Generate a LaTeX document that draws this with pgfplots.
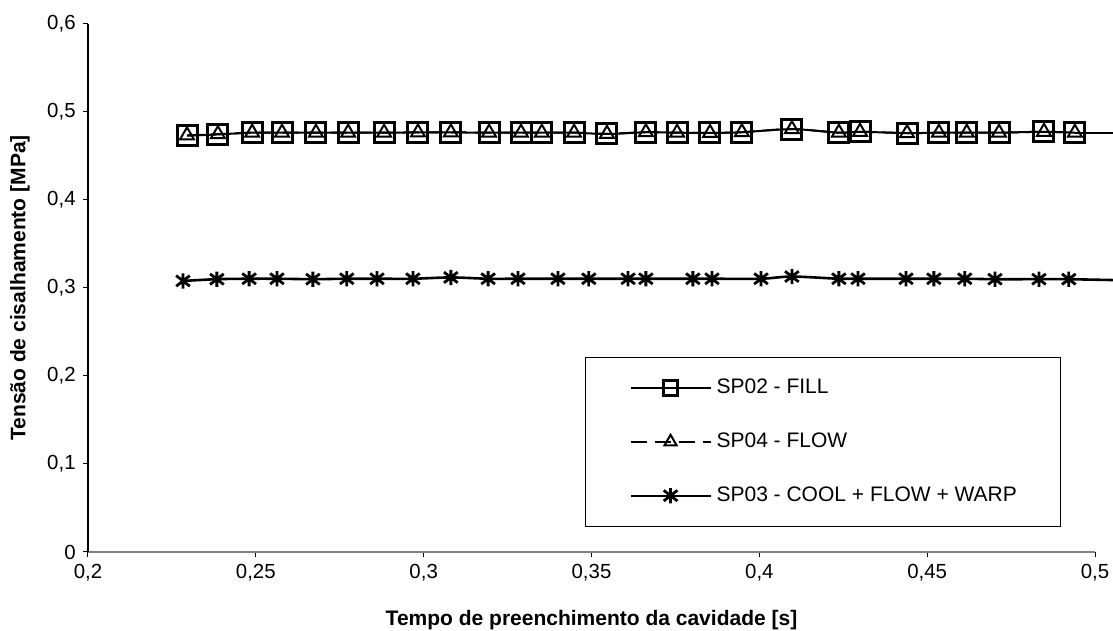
\documentclass[border=0pt]{standalone}
\usepackage{fontspec}
\setmainfont{Liberation Sans}
\usepackage{pgfplots}
\pgfplotsset{compat=1.18}

% asterisk like the spreadsheet one: vertical stroke plus an X
\pgfdeclareplotmark{xast}{%
  \pgfpathmoveto{\pgfqpoint{0pt}{\pgfplotmarksize}}%
  \pgfpathlineto{\pgfqpoint{0pt}{-\pgfplotmarksize}}%
  \pgfpathmoveto{\pgfqpoint{0.9\pgfplotmarksize}{0.7\pgfplotmarksize}}%
  \pgfpathlineto{\pgfqpoint{-0.9\pgfplotmarksize}{-0.7\pgfplotmarksize}}%
  \pgfpathmoveto{\pgfqpoint{-0.9\pgfplotmarksize}{0.7\pgfplotmarksize}}%
  \pgfpathlineto{\pgfqpoint{0.9\pgfplotmarksize}{-0.7\pgfplotmarksize}}%
  \pgfusepathqstroke}

\begin{document}
\fontsize{10.5}{12.6}\selectfont
\begin{tikzpicture}
\begin{axis}[
  scale only axis, width=503.5pt, height=264pt,
  xmin=0.2, xmax=0.5, ymin=0, ymax=0.6,
  xtick={0.2,0.25,0.3,0.35,0.4,0.45,0.5},
  ytick={0,0.1,0.2,0.3,0.4,0.5,0.6},
  axis x line*=bottom, axis y line*=left,
  x axis line style={black!50, line width=0.8pt},
  y axis line style={black, line width=0.6pt},
  tick align=outside, major tick length=2.5pt,
  tick style={black, line width=0.5pt},
  /pgf/number format/use comma,
  /pgf/number format/assume math mode=true,
  ticklabel style={font=\fontsize{10.2}{12}\selectfont},
  xlabel={Tempo de preenchimento da cavidade [s]},
  ylabel={Tensão de cisalhamento [MPa]},
  label style={font=\bfseries\fontsize{10.5}{12.6}\selectfont},
  xlabel style={at={(axis description cs:0.5,-0.129)}, anchor=center},
  ylabel style={at={(axis description cs:-0.0675,0.5)}, anchor=center},
  legend style={at={(axis description cs:0.4935,0.047)}, anchor=south west,
    draw=black, line width=0.6pt, fill=white,
    font=\fontsize{10.5}{12.6}\selectfont,
    inner xsep=22pt, inner ysep=11pt, row sep=18pt, column sep=2.5pt,
    nodes={inner sep=0pt}},
  legend cell align=left,
  legend image code/.code={%
    \draw[mark repeat=2, mark phase=2, #1] plot coordinates {(0pt,0pt) (20pt,0pt) (40pt,0pt)};},
  clip=false,
]
\addplot[black, line width=1pt, smooth, mark=square, mark size=5pt,
  mark options={solid, line width=1.5pt}, legend image post style={mark size=3.6pt}]
coordinates {
(0.2295,0.4730)(0.2387,0.4745)(0.2489,0.4765)(0.2578,0.4765)(0.2679,0.4765)
(0.2775,0.4765)(0.2882,0.4765)(0.2983,0.4768)(0.3081,0.4768)(0.3195,0.4765)
(0.3290,0.4765)(0.3352,0.4765)(0.3448,0.4765)(0.3546,0.4750)(0.3662,0.4770)
(0.3755,0.4765)(0.3853,0.4762)(0.3948,0.4770)(0.4097,0.4805)(0.4237,0.4765)
(0.4300,0.4775)(0.4440,0.4760)(0.4535,0.4765)(0.4618,0.4765)(0.4714,0.4765)
(0.4848,0.4775)(0.4940,0.4765)};
\addlegendentry{SP02 - FILL}
\addplot[black, line width=1pt, smooth, dash pattern=on 8pt off 4pt, mark=triangle, mark size=4pt,
  mark options={solid, line width=1pt}, legend image post style={mark size=3.5pt}]
coordinates {
(0.2295,0.4735)(0.2387,0.4748)(0.2489,0.4765)(0.2578,0.4765)(0.2679,0.4765)
(0.2775,0.4765)(0.2882,0.4765)(0.2983,0.4768)(0.3081,0.4768)(0.3195,0.4765)
(0.3290,0.4765)(0.3352,0.4765)(0.3448,0.4765)(0.3546,0.4752)(0.3662,0.4770)
(0.3755,0.4765)(0.3853,0.4762)(0.3948,0.4770)(0.4097,0.4805)(0.4237,0.4765)
(0.4300,0.4775)(0.4440,0.4760)(0.4535,0.4765)(0.4618,0.4765)(0.4714,0.4765)
(0.4848,0.4775)(0.4940,0.4765)};
\addlegendentry{SP04 - FLOW}
\addplot[black, line width=1.3pt, smooth, mark=xast, mark size=3.8pt,
  mark options={solid, line width=1.4pt}, legend image post style={mark size=3.8pt, line width=1pt}]
coordinates {
(0.2283,0.3080)(0.2384,0.3100)(0.2480,0.3105)(0.2563,0.3105)(0.2670,0.3100)
(0.2771,0.3105)(0.2861,0.3105)(0.2968,0.3105)(0.3081,0.3120)(0.3192,0.3105)
(0.3281,0.3105)(0.3400,0.3105)(0.3492,0.3105)(0.3609,0.3105)(0.3662,0.3105)
(0.3802,0.3105)(0.3859,0.3105)(0.4005,0.3105)(0.4097,0.3130)(0.4237,0.3105)
(0.4294,0.3105)(0.4437,0.3105)(0.4520,0.3105)(0.4612,0.3105)(0.4702,0.3100)
(0.4833,0.3100)(0.4922,0.3100)};
\addlegendentry{SP03 - COOL + FLOW + WARP}
% lines run on to the edge of the picture
\addplot[forget plot, black, line width=1pt] coordinates {(0.4940,0.4765)(0.5054,0.4765)};
\addplot[forget plot, black, line width=1.3pt] coordinates {(0.4922,0.3100)(0.5054,0.3090)};
\end{axis}
\pgfresetboundingbox
\path[use as bounding box] ([shift={(-44pt,-39.5pt)}]current axis.south west)
  rectangle ([shift={(9pt,12pt)}]current axis.north east);
\end{tikzpicture}
\end{document}
